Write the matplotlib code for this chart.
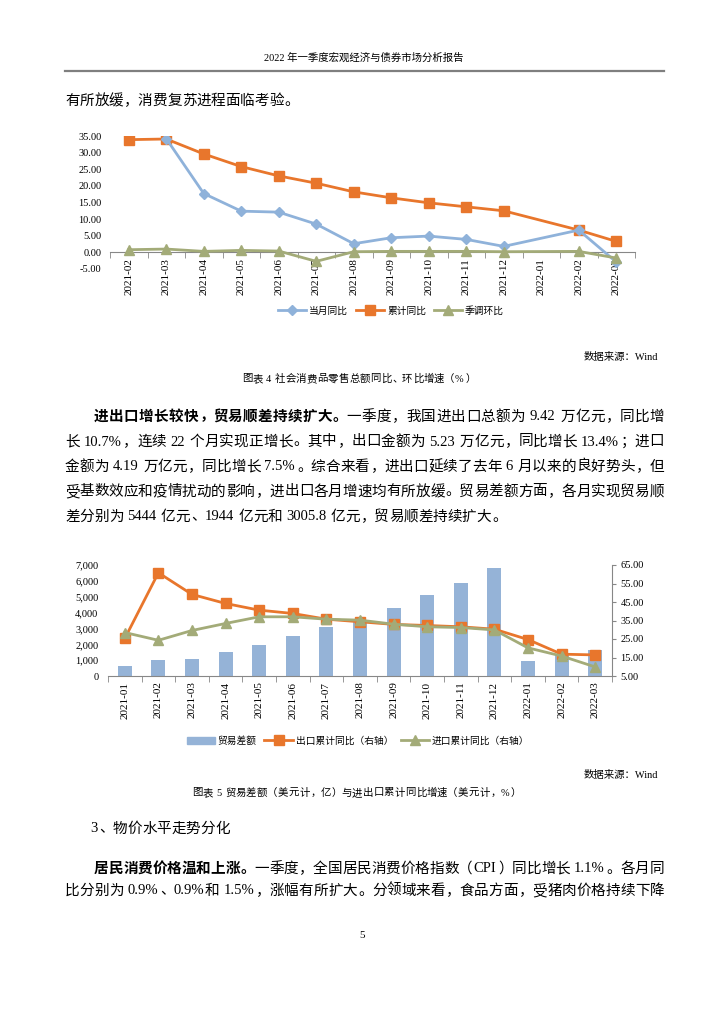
import re
import numpy as np
import matplotlib
matplotlib.use("Agg")
import matplotlib.pyplot as plt
from matplotlib.lines import Line2D
from matplotlib.patches import Patch
from matplotlib.ticker import FuncFormatter

plt.rcParams['font.family'] = ['Liberation Serif', 'Noto Sans CJK SC', 'DejaVu Sans']

W, H = 724, 1024
nan = np.nan

# chart 1: retail sales growth
months1 = ["2021-02", "2021-03", "2021-04", "2021-05", "2021-06", "2021-07", "2021-08",
           "2021-09", "2021-10", "2021-11", "2021-12", "2022-01", "2022-02", "2022-03"]
retail_month = [nan, 34.2, 17.7, 12.4, 12.1, 8.5, 2.6, 4.4, 4.9, 3.9, 1.8, nan, 6.7, -2.9]
retail_cum = [33.9, 34.1, 29.6, 25.8, 23.0, 20.8, 18.2, 16.4, 14.9, 13.7, 12.5, nan, 6.7, 3.3]
retail_mom = [0.8, 1.0, 0.3, 0.6, 0.4, -2.7, 0.2, 0.3, 0.3, 0.3, 0.2, nan, 0.3, -1.7]
legend1 = ["当月同比", "累计同比", "季调环比"]

# chart 2: trade balance and cumulative growth
months2 = ["2021-01", "2021-02", "2021-03", "2021-04", "2021-05", "2021-06", "2021-07", "2021-08",
           "2021-09", "2021-10", "2021-11", "2021-12", "2022-01", "2022-02", "2022-03"]
trade_balance = [630, 990, 1100, 1520, 1985, 2510, 3060, 3450, 4300, 5100, 5860, 6790, 930, 1370, 1630]
export_cum = [25.3, 60.8, 49.1, 44.2, 40.6, 38.8, 35.7, 34.3, 32.9, 32.3, 31.6, 30.3, 24.7, 16.8, 16.4]
import_cum = [28.5, 24.3, 29.6, 33.4, 37.0, 37.0, 35.7, 35.2, 33.0, 31.6, 31.2, 29.9, 20.2, 15.8, 9.9]
legend2 = ["贸易差额", "出口累计同比（右轴）", "进口累计同比（右轴）"]

header = "2022 年一季度宏观经济与债券市场分析报告"
intro = "有所放缓，消费复苏进程面临考验。"
caption1 = "图表 4 社会消费品零售总额同比、环比增速（%）"
caption2 = "图表 5 贸易差额（美元计，亿）与进出口累计同比增速（美元计，%）"
source = "数据来源：Wind"
para1 = [
    [("进出口增长较快，贸易顺差持续扩大。", "bold"), ("一季度，我国进出口总额为 9.42 万亿元，同比增", "normal")],
    [("长 10.7%，连续 22 个月实现正增长。其中，出口金额为 5.23 万亿元，同比增长 13.4%；进口", "normal")],
    [("金额为 4.19 万亿元，同比增长 7.5%。综合来看，进出口延续了去年 6 月以来的良好势头，但", "normal")],
    [("受基数效应和疫情扰动的影响，进出口各月增速均有所放缓。贸易差额方面，各月实现贸易顺", "normal")],
    [("差分别为 5444 亿元、1944 亿元和 3005.8 亿元，贸易顺差持续扩大。", "normal")],
]
section3 = "3、物价水平走势分化"
para2 = [
    [("居民消费价格温和上涨。", "bold"), ("一季度，全国居民消费价格指数（CPI）同比增长 1.1%。各月同", "normal")],
    [("比分别为 0.9%、0.9%和 1.5%，涨幅有所扩大。分领域来看，食品方面，受猪肉价格持续下降", "normal")],
]

BLUE = "#8FB2DA"
BAR = "#95B3D7"
ORANGE = "#E8762C"
GREEN = "#A3AB78"
GRAY = "#878787"

fig = plt.figure(figsize=(W / 100, H / 100), dpi=100)
renderer = fig.canvas.get_renderer()


def fx(x):
    return x / W


def fy(y):
    return 1 - y / H


def text_line(y, parts, x0=65, x1=None, size=10.5, cell=None):
    # lay out a line char by char, CJK chars get a full cell
    if cell is None:
        cell = size * 100 / 72
    toks = []
    for s, wt in parts:
        for t in re.findall(r'[0-9A-Za-z.%]+| |.', s):
            toks.append((t, wt))
    items = []
    for t, wt in toks:
        if t == ' ':
            items.append((None, cell * 0.25, None))
        elif re.match(r'[0-9A-Za-z.%]', t):
            o = fig.text(0, fy(y), t, fontsize=size, fontweight=wt, va='center', ha='left')
            items.append((o, o.get_window_extent(renderer).width + 1, 'left'))
        else:
            if t in "，。、；：）":
                ha = 'left'
            elif t == "（":
                ha = 'right'
            else:
                ha = 'center'
            o = fig.text(0, fy(y), t, fontsize=size, fontweight=wt, va='center', ha=ha)
            items.append((o, cell, ha))
    total = sum(w for _, w, _ in items)
    gap = (x1 - x0 - total) / (len(items) - 1) if x1 is not None else 0
    x = x0
    for o, w, ha in items:
        if o is not None:
            if ha == 'center':
                o.set_x(fx(x + w / 2))
            elif ha == 'right':
                o.set_x(fx(x + w - 1))
            elif w == cell:
                o.set_x(fx(x + 1))
            else:
                o.set_x(fx(x))
        x += w + gap
    return x


# page header
fig.text(fx(364), fy(58), header, fontsize=7.5, ha='center', va='center')
fig.add_artist(Line2D([fx(65), fx(664)], [fy(71), fy(71)], color='#7f7f7f', lw=1.6))
text_line(101, [(intro, "normal")])

# ---- chart 1 ----
ax1 = fig.add_axes([fx(110), fy(269), fx(635) - fx(110), fy(136) - fy(269)])
x1 = np.arange(len(months1))


def valid(vals):
    v = np.array(vals, dtype=float)
    m = ~np.isnan(v)
    return x1[m], v[m]


ax1.plot(*valid(retail_month), color=BLUE, lw=2, marker='D', ms=5.5, label=legend1[0], zorder=3)
ax1.plot(*valid(retail_cum), color=ORANGE, lw=2, marker='s', ms=7, label=legend1[1], zorder=2)
ax1.plot(*valid(retail_mom), color=GREEN, lw=2, marker='^', ms=7, label=legend1[2], zorder=4)
ax1.set_xlim(-0.5, len(months1) - 0.5)
ax1.set_ylim(-5, 35)
ax1.set_yticks(np.arange(-5, 36, 5))
ax1.yaxis.set_major_formatter(FuncFormatter(lambda v, p: f"{v:.2f}"))
for s in ['top', 'right', 'left']:
    ax1.spines[s].set_visible(False)
ax1.spines['bottom'].set_position(('data', 0))
ax1.spines['bottom'].set_color(GRAY)
ax1.set_xticks(x1)
ax1.set_xticklabels(months1, rotation=90, fontsize=8)
ax1.set_xticks(np.arange(-0.5, len(months1)), minor=True)
ax1.tick_params(axis='x', which='major', length=0, pad=4)
ax1.tick_params(axis='x', which='minor', length=4, color=GRAY, direction='out')
ax1.tick_params(axis='y', length=0, pad=6, labelsize=7.5)
ax1.legend(loc='center', bbox_to_anchor=(fx(391), fy(311)), bbox_transform=fig.transFigure,
           ncol=3, frameon=False, fontsize=7, handlelength=2.9, handletextpad=0.3,
           columnspacing=0.8)

fig.text(fx(658), fy(357), source, fontsize=7.5, ha='right', va='center')
text_line(379, [(caption1, "normal")], x0=242, size=7.5, cell=10.6)

# body paragraph 1
py = 417
for i, line in enumerate(para1):
    last = i == len(para1) - 1
    text_line(py + i * 25, line, x0=94 if i == 0 else 65, x1=None if last else 664)

# ---- chart 2 ----
ax2 = fig.add_axes([fx(108), fy(676), fx(612) - fx(108), fy(565) - fy(676)])
x2 = np.arange(len(months2))
ax2.bar(x2, trade_balance, width=0.42, color=BAR, zorder=1)
ax2.set_xlim(-0.5, len(months2) - 0.5)
ax2.set_ylim(0, 7000)
ax2.set_yticks(np.arange(0, 7001, 1000))
ax2.yaxis.set_major_formatter(FuncFormatter(lambda v, p: f"{v:,.0f}"))
for s in ['top', 'right', 'left']:
    ax2.spines[s].set_visible(False)
ax2.spines['bottom'].set_color(GRAY)
ax2.set_xticks(x2)
ax2.set_xticklabels(months2, rotation=90, fontsize=8)
ax2.set_xticks(np.arange(-0.5, len(months2)), minor=True)
ax2.tick_params(axis='x', which='major', length=0, pad=4)
ax2.tick_params(axis='x', which='minor', length=4, color=GRAY, direction='out')
ax2.tick_params(axis='y', length=0, pad=7, labelsize=7.5)

ax2r = ax2.twinx()
ax2r.plot(x2, export_cum, color=ORANGE, lw=2, marker='s', ms=6.5, zorder=3)
ax2r.plot(x2, import_cum, color=GREEN, lw=2, marker='^', ms=7, zorder=4)
ax2r.set_ylim(5, 65)
ax2r.set_yticks(np.arange(5, 66, 10))
ax2r.yaxis.set_major_formatter(FuncFormatter(lambda v, p: f"{v:.2f}"))
for s in ['top', 'left', 'bottom']:
    ax2r.spines[s].set_visible(False)
ax2r.spines['right'].set_color(GRAY)
ax2r.tick_params(axis='y', length=3, color=GRAY, pad=3, labelsize=7.5)

handles2 = [Patch(color=BAR),
            Line2D([], [], color=ORANGE, lw=2, marker='s', ms=6.5),
            Line2D([], [], color=GREEN, lw=2, marker='^', ms=7)]
ax2.legend(handles2, legend2, loc='center', bbox_to_anchor=(fx(358), fy(741)),
           bbox_transform=fig.transFigure, ncol=3, frameon=False, fontsize=7,
           handlelength=2.9, handletextpad=0.3, columnspacing=0.8)

fig.text(fx(658), fy(775), source, fontsize=7.5, ha='right', va='center')
text_line(793, [(caption2, "normal")], x0=192, size=7.5, cell=10.6)

# section 3
text_line(829, [(section3, "normal")], x0=90)
for i, line in enumerate(para2):
    text_line(869 + i * 22, line, x0=94 if i == 0 else 65, x1=664)

fig.text(fx(362), fy(936), "5", fontsize=8, ha='center', va='center')

fig.savefig("out.png", dpi=100)
